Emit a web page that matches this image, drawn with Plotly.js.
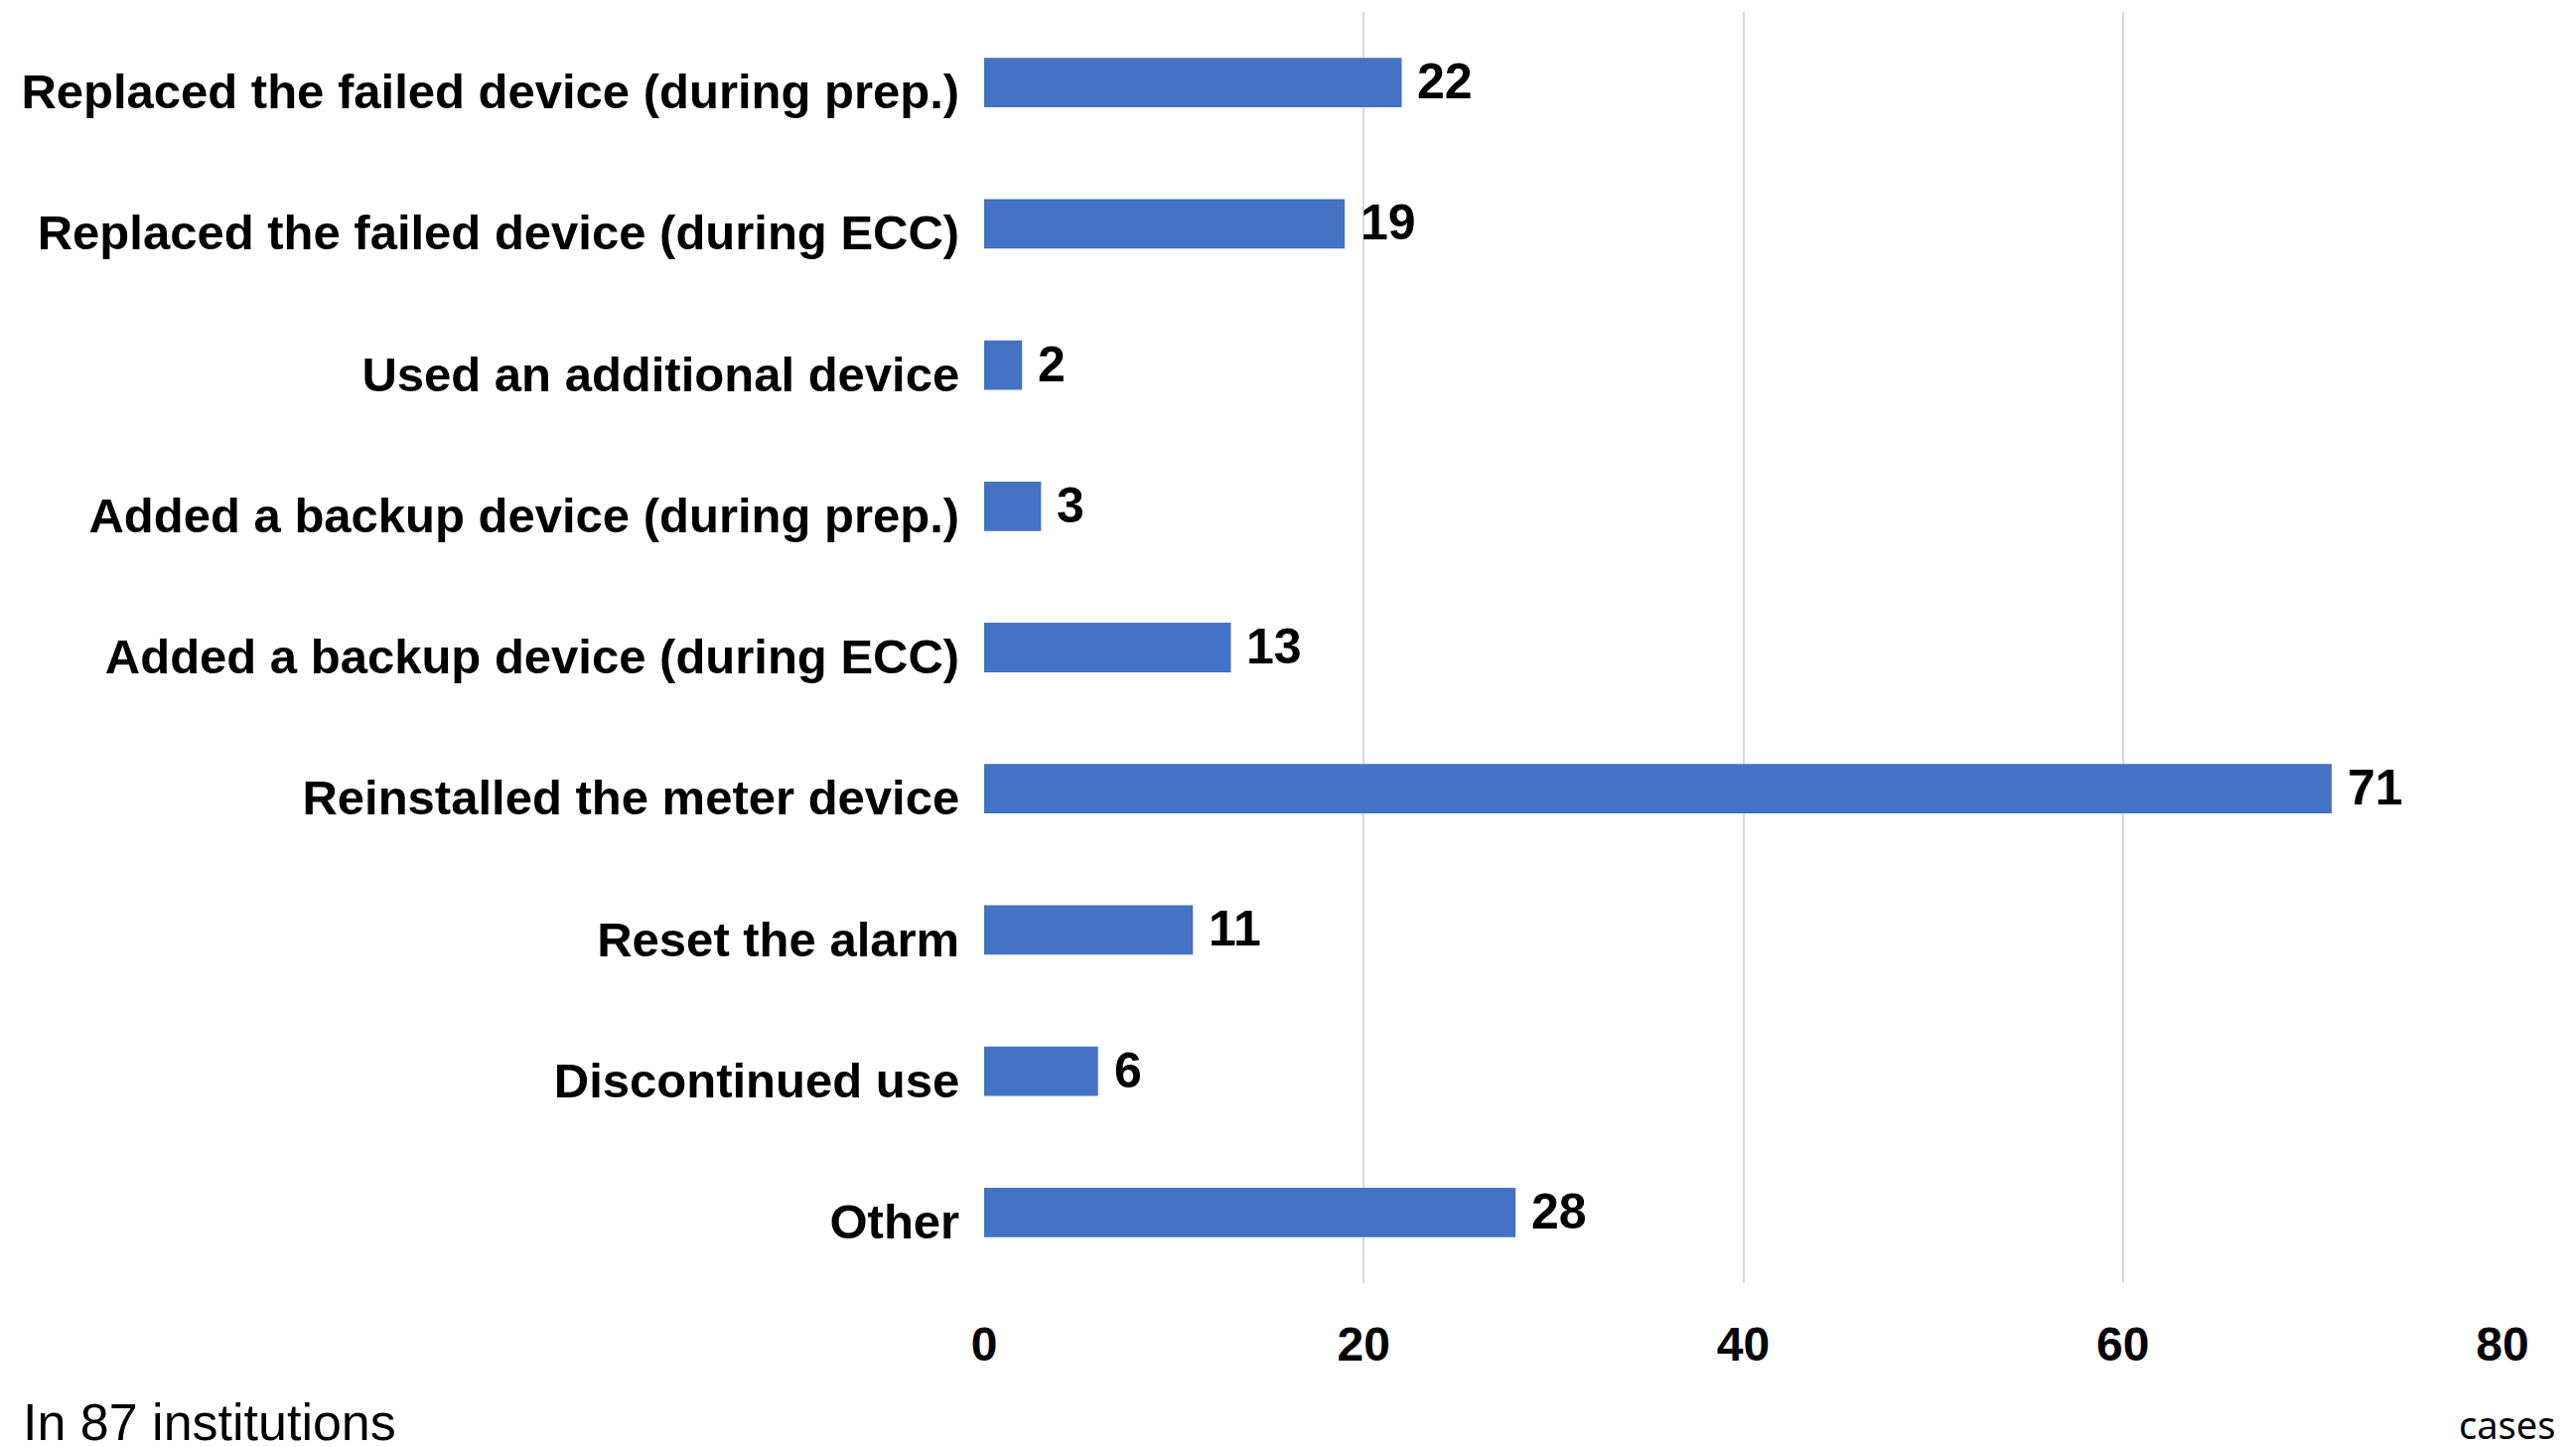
<!DOCTYPE html>
<html>
<head>
<meta charset="utf-8">
<script src="https://cdn.plot.ly/plotly-3.0.1.min.js"></script>
<style>html,body{margin:0;padding:0;background:#fff;}#chart{width:2594px;height:1457px;}</style>
</head>
<body>
<div id="chart"></div>
<script>
const categories = [
  "Replaced the failed device (during prep.)",
  "Replaced the failed device (during ECC)",
  "Used an additional device",
  "Added a backup device (during prep.)",
  "Added a backup device (during ECC)",
  "Reinstalled the meter device",
  "Reset the alarm",
  "Discontinued use",
  "Other"
];
const cases = [22, 19, 2, 3, 13, 71, 11, 6, 28];
const xTicks = [0, 20, 40, 60, 80];
const noteText = "In 87 institutions";
const unitText = "cases";

const trace = {
  type: "bar",
  orientation: "h",
  y: categories,
  x: cases,
  marker: {color: "#4472C4"},
  hoverinfo: "none"
};

const valueLabels = categories.map((c, i) => ({
  text: String(cases[i]), xref: "x", yref: "y", x: cases[i], y: c,
  xanchor: "left", yanchor: "middle", xshift: 14, yshift: 1, showarrow: false,
  font: {family: "Liberation Sans, Arial, sans-serif", size: 50, color: "#000", weight: "bold"}
}));

const layout = {
  width: 2594,
  height: 1457,
  margin: {l: 991, r: 74, t: 12, b: 165},
  paper_bgcolor: "#fff",
  plot_bgcolor: "#fff",
  showlegend: false,
  bargap: 0.65,
  font: {family: "Liberation Sans, Arial, sans-serif", color: "#000"},
  xaxis: {
    range: [0, 80],
    tickvals: xTicks,
    ticktext: xTicks.map(String),
    showgrid: true,
    gridcolor: "#d9d9d9",
    gridwidth: 2,
    zeroline: false,
    showline: false,
    ticks: "outside",
    ticklen: 19,
    tickcolor: "rgba(0,0,0,0)",
    tickfont: {family: "Liberation Sans, Arial, sans-serif", size: 48, color: "#000", weight: "bold"}
  },
  yaxis: {
    autorange: "reversed",
    type: "category",
    showgrid: false,
    zeroline: false,
    showline: false,
    ticks: "outside",
    ticklen: 14,
    ticklabelshift: -9,
    tickcolor: "rgba(0,0,0,0)",
    tickfont: {family: "Liberation Sans, Arial, sans-serif", size: 49, color: "#000", weight: "bold"}
  },
  annotations: valueLabels.concat([
    {text: noteText, xref: "paper", yref: "paper", x: (21 - 991) / 1529, y: (1292 - 1432) / 1280,
     xanchor: "left", yanchor: "middle", showarrow: false,
     font: {family: "Liberation Sans, Arial, sans-serif", size: 52, color: "#000"}},
    {text: unitText, xref: "x", yref: "paper", x: 80, y: (1292 - 1434) / 1280,
     xanchor: "center", yanchor: "middle", xshift: 4, showarrow: false,
     font: {family: "Noto Sans, Open Sans, sans-serif", size: 38, color: "#000"}}
  ])
};

Plotly.newPlot("chart", [trace], layout, {displayModeBar: false, staticPlot: true});
</script>
</body>
</html>
